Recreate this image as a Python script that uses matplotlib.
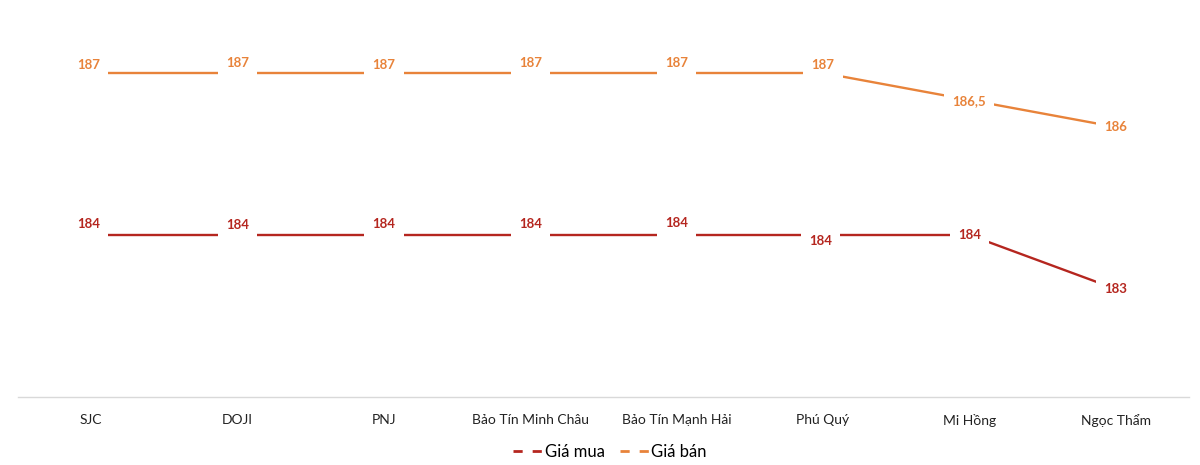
import numpy as np
import matplotlib.pyplot as plt
from matplotlib.lines import Line2D

# Data
stores = ['SJC', 'DOJI', 'PNJ', 'Bảo Tín Minh Châu', 'Bảo Tín Mạnh Hải',
          'Phú Quý', 'Mi Hồng', 'Ngọc Thẩm']
gia_mua = [184, 184, 184, 184, 184, 184, 184, 183]
gia_ban = [187, 187, 187, 187, 187, 187, 186.5, 186]

# label offsets in points (Excel places them a bit differently per point)
off_mua = [(-2, 8), (0, 7), (0, 8), (0, 8), (0, 8.5), (-2, -4), (0, 0), (0, 0)]
off_ban = [(-2, 6), (0, 7), (0, 6), (0, 7), (0, 7), (0, 6), (0, -1), (0, 0)]

red = '#B5261F'
orange = '#E8833A'

plt.rcParams['font.family'] = ['Lato', 'DejaVu Sans']

fig = plt.figure(figsize=(12, 4.65), dpi=100)
ax = fig.add_axes([18 / 1200, 68 / 465, 1171 / 1200, 397 / 465])

x = np.arange(len(stores))
ax.plot(x, gia_mua, color=red, lw=1.7, zorder=2)
ax.plot(x, gia_ban, color=orange, lw=1.7, zorder=2)

def fmt(v):
    return f'{v:g}'.replace('.', ',')

for xs, ys, offs, c in [(x, gia_mua, off_mua, red), (x, gia_ban, off_ban, orange)]:
    for xi, yi, (dx, dy) in zip(xs, ys, offs):
        ax.annotate(fmt(yi), (xi, yi), xytext=(dx, dy), textcoords='offset points',
                    ha='center', va='center', fontsize=9.5, fontweight='bold', color=c,
                    bbox=dict(boxstyle='square,pad=0.62', fc='white', ec='none'),
                    zorder=3)

ax.set_xlim(-0.5, len(stores) - 0.5)
ax.set_ylim(181, 181 + 397 / 54)
ax.set_xticks(x)
ax.set_xticklabels(stores, fontsize=10, color='#222222')
ax.tick_params(axis='x', length=0, pad=12)
ax.set_yticks([])
for s in ['top', 'right', 'left']:
    ax.spines[s].set_visible(False)
ax.spines['bottom'].set_color('#D9D9D9')
ax.spines['bottom'].set_linewidth(1)

handles = [Line2D([], [], color=red, lw=2, linestyle=(0, (3.3, 3.6))),
           Line2D([], [], color=orange, lw=2, linestyle=(0, (3.3, 3.6)))]
fig.legend(handles, ['Giá mua', 'Giá bán'], loc='center', bbox_to_anchor=(610 / 1200, 1 - 452 / 465),
           ncol=2, frameon=False, fontsize=12, handlelength=1.85, handletextpad=0.05,
           columnspacing=0.9)

plt.savefig('out.png', dpi=100)
